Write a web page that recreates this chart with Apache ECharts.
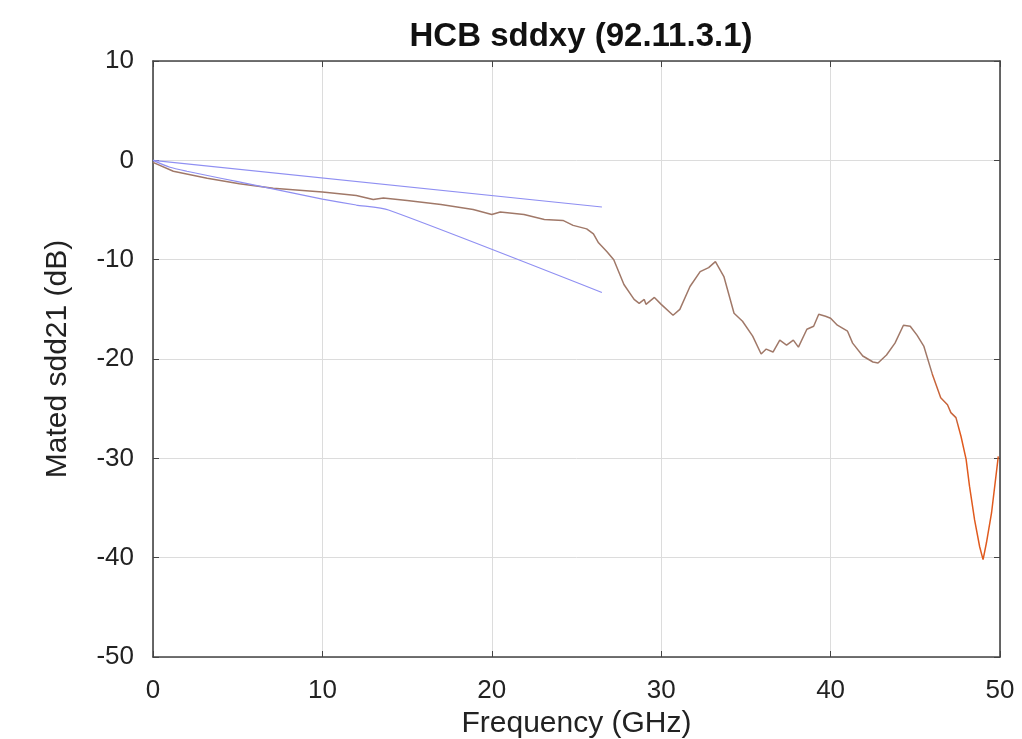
<!DOCTYPE html>
<html>
<head>
<meta charset="utf-8">
<script src="https://cdn.jsdelivr.net/npm/echarts@6/dist/echarts.min.js"></script>
<style>
  html, body { margin: 0; padding: 0; background: #fff; }
  #chart { width: 1022px; height: 739px; }
</style>
</head>
<body>
<div id="chart"></div>
<script>
var freq = [0, 1.2, 3.2, 5.1, 7.1, 10, 12, 13, 13.6, 15, 17, 18.9, 20, 20.5, 21.9, 23.1, 24.2, 24.8, 25.6, 26, 26.3, 26.8, 27.2, 27.8, 28.4, 28.7, 29, 29.1, 29.6, 30, 30.7, 31.1, 31.7, 32.3, 32.8, 33.2, 33.7, 34.3, 34.8, 35.4, 35.9, 36.2, 36.6, 37, 37.4, 37.8, 38.1, 38.6, 39, 39.3, 39.7, 40, 40.4, 41, 41.3, 41.9, 42.5, 42.8, 43.3, 43.8, 44.3, 44.7, 45.1, 45.5, 46, 46.5, 46.9, 47.1, 47.4, 47.7, 48, 48.2, 48.5, 48.8, 49, 49.2, 49.5, 49.9];
var sdd21 = [-0.2, -1.1, -1.8, -2.35, -2.8, -3.2, -3.55, -3.95, -3.8, -4.05, -4.45, -4.95, -5.45, -5.2, -5.45, -5.95, -6.05, -6.55, -6.9, -7.4, -8.3, -9.2, -10, -12.5, -14.0, -14.4, -14.0, -14.5, -13.8, -14.5, -15.6, -15.0, -12.7, -11.2, -10.8, -10.2, -11.7, -15.4, -16.2, -17.7, -19.5, -19.0, -19.3, -18.1, -18.6, -18.1, -18.8, -17.0, -16.7, -15.5, -15.7, -15.9, -16.6, -17.2, -18.4, -19.7, -20.3, -20.4, -19.6, -18.4, -16.6, -16.7, -17.6, -18.7, -21.5, -23.9, -24.6, -25.4, -25.9, -27.8, -30.1, -32.8, -36.2, -38.9, -40.2, -38.5, -35.5, -29.8];

// limit lines
var upperFreq = [0, 26.5];
var upperDb = [0, -4.7];
var lowerFreq = [0, 1, 2, 4, 6, 8, 10, 12, 13.9, 26.5];
var lowerDb = [0, -0.7, -1.1, -1.8, -2.5, -3.2, -3.9, -4.5, -5.0, -13.3];

var xTicks = [0, 10, 20, 30, 40, 50];
var yTicks = [10, 0, -10, -20, -30, -40, -50];

function pairs(xs, ys) {
  return xs.map(function (x, i) { return [x, ys[i]]; });
}

var font = 'Liberation Sans, Arial, sans-serif';
var frame = { show: true, onZero: false, lineStyle: { color: '#444', width: 1.6 } };
var tick = { inside: true, length: 6, lineStyle: { color: '#444' } };

var myChart = echarts.init(document.getElementById('chart'));
var option = {
  backgroundColor: '#fff',
  animation: false,
  title: {
    text: 'HCB sddxy (92.11.3.1)',
    left: 576, top: 15, textAlign: 'center',
    textStyle: { fontFamily: font, fontSize: 33, fontWeight: 'bold', color: '#111' }
  },
  grid: { left: 153, right: 22, top: 61, bottom: 82, outerBoundsMode: 'none', containLabel: false },
  xAxis: [
    {
      type: 'value', min: xTicks[0], max: xTicks[xTicks.length - 1], interval: 10,
      name: 'Frequency (GHz)', nameLocation: 'middle', nameGap: 48,
      nameTextStyle: { fontFamily: font, fontSize: 30, color: '#222' },
      axisLine: frame, axisTick: tick,
      axisLabel: { fontFamily: font, fontSize: 26, color: '#222', margin: 21 },
      splitLine: { show: true, lineStyle: { color: '#dcdcdc', width: 1 } }
    },
    {
      type: 'value', position: 'top', min: 0, max: 50, interval: 10,
      axisLine: frame, axisTick: tick,
      axisLabel: { show: false }, splitLine: { show: false }
    }
  ],
  yAxis: [
    {
      type: 'value', min: yTicks[yTicks.length - 1], max: yTicks[0], interval: 10,
      name: 'Mated sdd21 (dB)', nameLocation: 'middle', nameGap: 80, nameRotate: 90,
      nameTextStyle: { fontFamily: font, fontSize: 30, color: '#222' },
      axisLine: frame, axisTick: tick,
      axisLabel: { fontFamily: font, fontSize: 26, color: '#222', margin: 19 },
      splitLine: { show: true, lineStyle: { color: '#dcdcdc', width: 1 } }
    },
    {
      type: 'value', position: 'right', min: -50, max: 10, interval: 10,
      axisLine: frame, axisTick: tick,
      axisLabel: { show: false }, splitLine: { show: false }
    }
  ],
  visualMap: {
    show: false, type: 'piecewise', seriesIndex: 0, dimension: 0,
    pieces: [
      { lt: 46, color: '#a07868' },
      { gte: 46, lt: 47.5, color: '#c8643a' },
      { gte: 47.5, color: '#e05a1e' }
    ]
  },
  series: [
    {
      name: 'sdd21', type: 'line', showSymbol: false,
      data: pairs(freq, sdd21),
      lineStyle: { width: 1.5 }
    },
    {
      name: 'upper', type: 'line', showSymbol: false,
      data: pairs(upperFreq, upperDb),
      lineStyle: { color: '#8f8ff2', width: 1.2 }, itemStyle: { color: '#8f8ff2' }
    },
    {
      name: 'lower', type: 'line', showSymbol: false, smooth: 0.2,
      data: pairs(lowerFreq, lowerDb),
      lineStyle: { color: '#8f8ff2', width: 1.2 }, itemStyle: { color: '#8f8ff2' }
    }
  ]
};
myChart.setOption(option);
</script>
</body>
</html>
